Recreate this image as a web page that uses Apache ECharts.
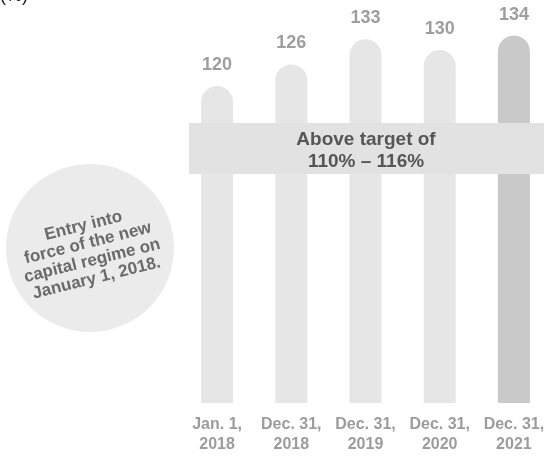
<!DOCTYPE html>
<html>
<head>
<meta charset="utf-8">
<script src="https://cdn.jsdelivr.net/npm/echarts@6/dist/echarts.min.js"></script>
<style>
  html, body { margin: 0; padding: 0; background: #ffffff; }
  #chart { width: 551px; height: 460px; }
</style>
</head>
<body>
<div id="chart"></div>
<script>
// Solvency ratio by reporting date (%)
const categories = ['Jan. 1,\n2018', 'Dec. 31,\n2018', 'Dec. 31,\n2019', 'Dec. 31,\n2020', 'Dec. 31,\n2021'];
const ratios = [120, 126, 133, 130, 134];
const barColors = ['#e6e6e6', '#e6e6e6', '#e6e6e6', '#e6e6e6', '#c9c9c9'];

const unitLabel = '(%)';
const targetText = 'Above target of\n110% – 116%';
const noteText = 'Entry into\nforce of the new\ncapital regime on\nJanuary 1, 2018.';

const FONT = '"Liberation Sans", Arial, sans-serif';

const chart = echarts.init(document.getElementById('chart'), null, { renderer: 'canvas' });

chart.setOption({
  animation: false,
  backgroundColor: '#ffffff',
  grid: { left: 180, width: 377, top: 14, bottom: 57, containLabel: false },
  xAxis: {
    type: 'category',
    data: categories,
    axisLine: { show: false },
    axisTick: { show: false },
    axisLabel: {
      interval: 0,
      hideOverlap: false,
      fontFamily: FONT,
      fontSize: 16,
      fontWeight: 'bold',
      color: '#9c9c9c',
      lineHeight: 20,
      margin: 12
    }
  },
  yAxis: {
    type: 'value',
    min: 32,
    max: 140,
    show: false,
    splitLine: { show: false }
  },
  series: [{
    type: 'bar',
    barWidth: 32,
    data: ratios.map((v, i) => ({ value: v, itemStyle: { color: barColors[i] } })),
    itemStyle: { borderRadius: [16, 16, 0, 0] },
    label: {
      show: true,
      position: 'top',
      distance: 12,
      fontFamily: FONT,
      fontSize: 18,
      fontWeight: 'bold',
      color: '#9e9e9e'
    }
  }],
  graphic: [
    {
      type: 'text',
      left: 0,
      top: -13,
      style: { text: unitLabel, font: '18px ' + FONT, fill: '#222222' }
    },
    {
      type: 'circle',
      shape: { cx: 90, cy: 248, r: 84 },
      style: { fill: '#ebebeb' },
      z: 1
    },
    {
      type: 'text',
      x: 90,
      y: 252,
      rotation: 14 * Math.PI / 180,
      style: {
        text: noteText,
        font: 'bold 17px ' + FONT,
        fill: '#6a6a6a',
        align: 'center',
        verticalAlign: 'middle',
        lineHeight: 18
      },
      z: 2
    },
    {
      type: 'rect',
      shape: { x: 189, y: 123, width: 355, height: 51 },
      style: { fill: '#e2e2e2' },
      z: 100
    },
    {
      type: 'text',
      x: 366,
      y: 151,
      style: {
        text: targetText,
        font: 'bold 19px ' + FONT,
        fill: '#555555',
        align: 'center',
        verticalAlign: 'middle',
        lineHeight: 22
      },
      z: 101
    }
  ]
});
</script>
</body>
</html>
